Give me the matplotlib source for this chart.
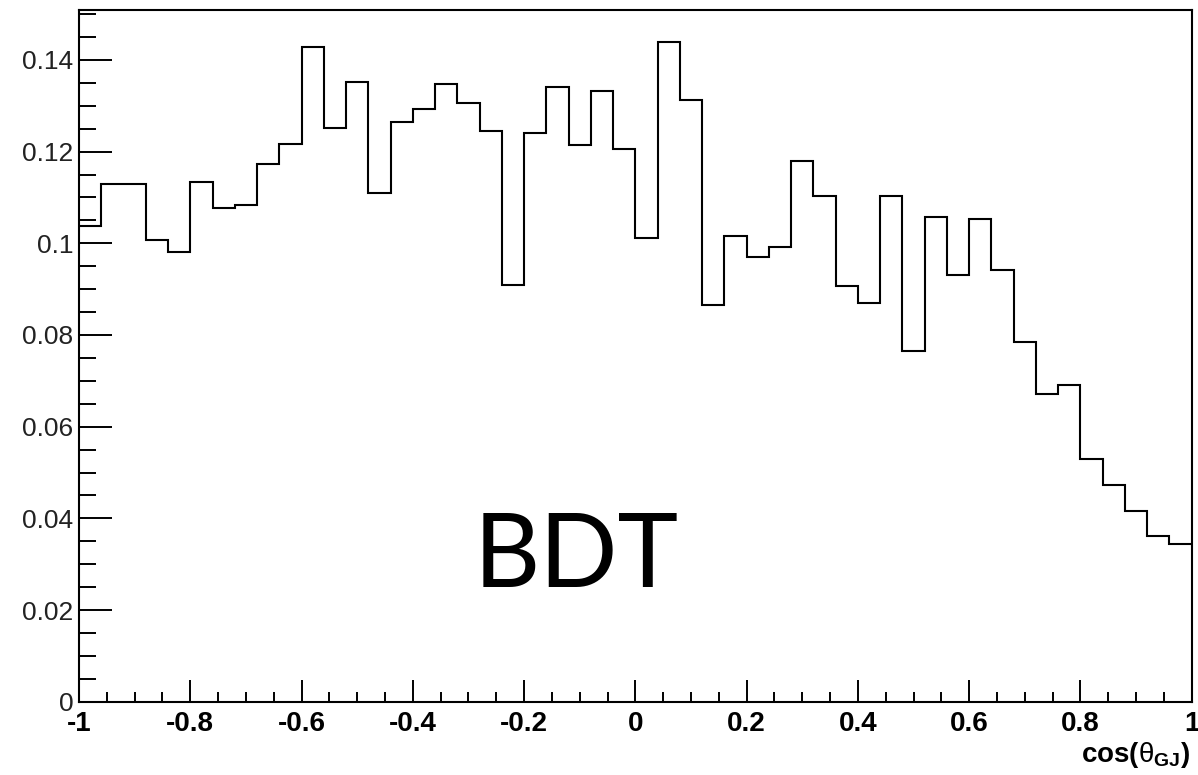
import numpy as np
import matplotlib
matplotlib.use("Agg")
import matplotlib.pyplot as plt
from matplotlib.ticker import FixedLocator, FixedFormatter, MultipleLocator

# ---- data ----
x_min, x_max, n_bins = -1.0, 1.0, 50
bin_values = [
    0.1037, 0.1130, 0.1130, 0.1008, 0.0981, 0.1134, 0.1078, 0.1083, 0.1174, 0.1216,
    0.1429, 0.1252, 0.1353, 0.1109, 0.1265, 0.1292, 0.1347, 0.1306, 0.1245, 0.0910,
    0.1240, 0.1341, 0.1215, 0.1333, 0.1205, 0.1011, 0.1439, 0.1312, 0.0865, 0.1016,
    0.0971, 0.0992, 0.1179, 0.1103, 0.0907, 0.0870, 0.1103, 0.0764, 0.1057, 0.0931,
    0.1053, 0.0941, 0.0784, 0.0671, 0.0691, 0.0529, 0.0473, 0.0416, 0.0362, 0.0345,
]
x_ticks = [-1, -0.8, -0.6, -0.4, -0.2, 0, 0.2, 0.4, 0.6, 0.8, 1]
x_tick_labels = ["-1", "-0.8", "-0.6", "-0.4", "-0.2", "0", "0.2", "0.4", "0.6", "0.8", "1"]
y_ticks = [0, 0.02, 0.04, 0.06, 0.08, 0.1, 0.12, 0.14]
y_tick_labels = ["0", "0.02", "0.04", "0.06", "0.08", "0.1", "0.12", "0.14"]
x_title = r"$\mathbf{cos(}\mathrm{θ}_{\mathbf{GJ}}\mathbf{)}$"
annotation = "BDT"

plt.rcParams["mathtext.fontset"] = "custom"
plt.rcParams["mathtext.rm"] = "Liberation Sans"
plt.rcParams["mathtext.bf"] = "Liberation Sans:bold"
plt.rcParams["mathtext.it"] = "Liberation Sans:italic"

W, H = 1198, 775
fig = plt.figure(figsize=(W / 100, H / 100), dpi=100)
ax = fig.add_axes([79 / W, 1 - 701.7 / H, (1191.7 - 79) / W, (701.7 - 10) / H])

edges = np.linspace(x_min, x_max, n_bins + 1)
ax.stairs(bin_values, edges, color="black", linewidth=1.5, baseline=None)

ax.set_xlim(x_min, x_max)
ax.set_ylim(0, 0.1509)

for s in ax.spines.values():
    s.set_linewidth(1.5)

ax.xaxis.set_major_locator(FixedLocator(x_ticks))
ax.xaxis.set_major_formatter(FixedFormatter(x_tick_labels))
ax.xaxis.set_minor_locator(MultipleLocator(0.05))
ax.yaxis.set_major_locator(FixedLocator(y_ticks))
ax.yaxis.set_major_formatter(FixedFormatter(y_tick_labels))
ax.yaxis.set_minor_locator(MultipleLocator(0.005))

ax.tick_params(axis="both", which="both", direction="in", width=1.4, color="black")
ax.tick_params(axis="x", which="major", length=15.8, pad=7)
ax.tick_params(axis="x", which="minor", length=7.2)
ax.tick_params(axis="y", which="major", length=23.8, pad=4)
ax.tick_params(axis="y", which="minor", length=12)

for lab in ax.get_xticklabels():
    lab.set_fontfamily("Liberation Sans")
    lab.set_fontweight("bold")
    lab.set_fontsize(20)
for lab in ax.get_yticklabels():
    lab.set_fontfamily("Liberation Sans")
    lab.set_fontsize(19)
    lab.set_color("#222222")

fig.text(1190 / W, 1 - 762 / H, x_title, ha="right", va="baseline", fontsize=20,
         fontfamily="Liberation Sans", fontweight="bold")

fig.text(576.5 / W, 1 - 587 / H, annotation, ha="center", va="baseline", fontsize=74,
         fontfamily="Lato", color="black")

fig.savefig("out.png", dpi=100)
